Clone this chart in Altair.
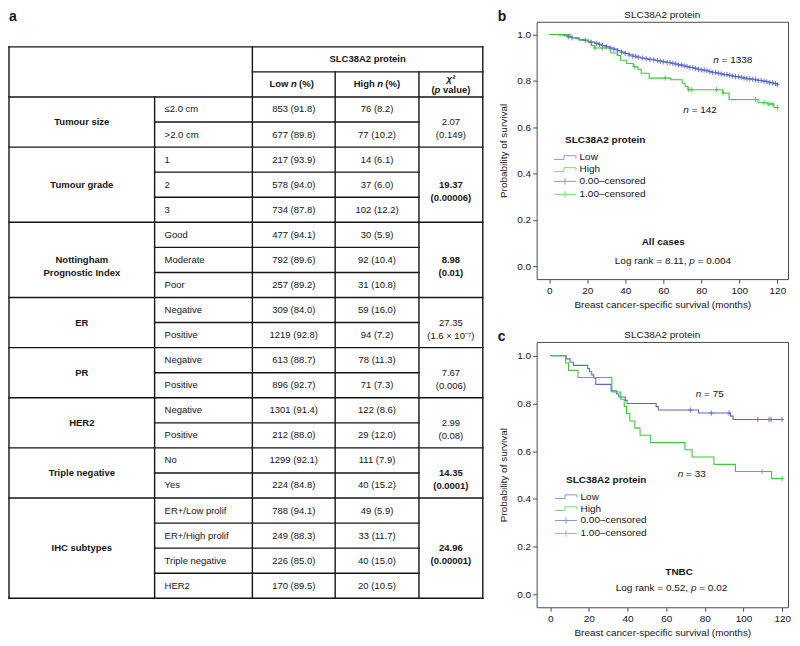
import altair as alt
import pandas as pd

FONT = "Liberation Sans"
INK = "#151515"
FRAME = "#4a4a4a"
BLUE = "#5a6bc6"
GREEN = "#43c443"

# ---------------- data: table (panel a) ----------------
groups = ["Tumour size", "Tumour grade", "Nottingham\nPrognostic Index", "ER", "PR",
          "HER2", "Triple negative", "IHC subtypes"]
subcats = [["≤2.0 cm", ">2.0 cm"], ["1", "2", "3"], ["Good", "Moderate", "Poor"],
           ["Negative", "Positive"], ["Negative", "Positive"], ["Negative", "Positive"],
           ["No", "Yes"], ["ER+/Low prolif", "ER+/High prolif", "Triple negative", "HER2"]]
low_n = [853, 677, 217, 578, 734, 477, 792, 257, 309, 1219, 613, 896, 1301, 212,
         1299, 224, 788, 249, 226, 170]
low_pct = [91.8, 89.8, 93.9, 94.0, 87.8, 94.1, 89.6, 89.2, 84.0, 92.8, 88.7, 92.7,
           91.4, 88.0, 92.1, 84.8, 94.1, 88.3, 85.0, 89.5]
high_n = [76, 77, 14, 37, 102, 30, 92, 31, 59, 94, 78, 71, 122, 29, 111, 40, 49, 33, 40, 20]
high_pct = [8.2, 10.2, 6.1, 6.0, 12.2, 5.9, 10.4, 10.8, 16.0, 7.2, 11.3, 7.3, 8.6, 12.0,
            7.9, 15.2, 5.9, 11.7, 15.0, 10.5]
chi2 = ["2.07", "19.37", "8.98", "27.35", "7.67", "2.99", "14.35", "24.96"]
pvals = ["0.149", "0.00006", "0.01", "1.6 × 10⁻⁷", "0.006", "0.08", "0.0001", "0.00001"]
significant = [False, True, True, False, False, False, True, True]

# ---------------- data: Kaplan-Meier curves ----------------
# panel b, all cases
b_low_t = [0, 5, 8, 10, 12, 14, 16, 18, 20, 22, 24, 26, 28, 30, 32, 34, 36, 38, 40, 42, 44,
           46, 48, 50, 52, 54, 56, 58, 60, 62, 64, 66, 68, 70, 72, 74, 76, 78, 80, 82, 84,
           86, 88, 90, 92, 94, 96, 98, 100, 102, 104, 106, 108, 110, 112, 114, 116, 118, 120]
b_low_s = [1.0, 0.998, 0.995, 0.99, 0.986, 0.982, 0.978, 0.975, 0.971, 0.967, 0.962, 0.957,
           0.952, 0.947, 0.942, 0.937, 0.930, 0.924, 0.918, 0.912, 0.906, 0.902, 0.899,
           0.896, 0.893, 0.891, 0.888, 0.885, 0.882, 0.879, 0.876, 0.873, 0.869, 0.865,
           0.862, 0.858, 0.854, 0.850, 0.847, 0.844, 0.840, 0.836, 0.833, 0.830, 0.827,
           0.824, 0.821, 0.818, 0.815, 0.812, 0.809, 0.807, 0.805, 0.802, 0.799, 0.796,
           0.792, 0.788, 0.783]
b_high_t = [0, 11, 15.6, 20.7, 22.3, 24, 32.4, 35.8, 37.5, 40.8, 44.2, 46.7, 48.4, 52.6,
            64, 70, 71.5, 73, 91.3, 94.6, 109.8, 114.8, 118.2, 120]
b_high_s = [1.0, 0.987, 0.976, 0.966, 0.952, 0.942, 0.92, 0.91, 0.889, 0.875, 0.861, 0.85,
            0.833, 0.812, 0.805, 0.790, 0.776, 0.762, 0.748, 0.720, 0.706, 0.700, 0.685, 0.685]
b_low_cens = [10, 12, 19, 22, 25, 26.5, 28, 30, 32, 34, 36, 38, 40, 42, 44, 45.5, 47, 49, 51,
              53, 55, 57, 58.5, 60, 62, 63.5, 65, 66.5, 68, 69.5, 71, 72.5, 74, 75.5, 77,
              78.5, 80, 81.5, 83, 84.5, 86, 87.5, 89, 90.5, 92, 93.5, 95, 96.5, 98, 99.5,
              101, 102.5, 104, 105.5, 107, 108.5, 110, 111.5, 113, 114.5, 116, 117.5, 119, 120]
b_high_cens = [24, 28, 45, 61, 73.5, 75, 88, 91.5, 108.5, 113, 115.6, 117.3, 120]

# panel c, TNBC
c_low_t = [0, 8.3, 10.3, 12, 19.4, 20.3, 21.5, 22.5, 23.6, 31.5, 34.4, 35.5, 38.8, 39.8,
           54.8, 55.9, 76.7, 93.3, 94.6, 120]
c_low_s = [1.0, 0.987, 0.973, 0.960, 0.947, 0.933, 0.920, 0.907, 0.880, 0.853, 0.840,
           0.827, 0.813, 0.800, 0.787, 0.773, 0.760, 0.747, 0.733, 0.733]
c_high_t = [0, 8, 9.5, 14.4, 31.9, 36.5, 38.3, 39.5, 41.2, 43.8, 46.5, 51.8, 69.7, 73.4,
            84.7, 95.8, 114.5, 120]
c_high_s = [1.0, 0.970, 0.939, 0.909, 0.848, 0.818, 0.788, 0.758, 0.727, 0.697, 0.667,
            0.636, 0.606, 0.576, 0.545, 0.515, 0.485, 0.485]
c_low_cens = [72.5, 83.3, 92.5, 107.4, 113.2, 114.3, 119.9]
c_high_cens = [109.6, 120]

legend_keys = ["Low", "High", "0.00–censored", "1.00–censored"]

# ---------------- table chart ----------------
col_w = [146, 98, 83, 84, 64]          # relative column widths (layout)
E = [0]
for w in col_w:
    E.append(E[-1] + w)
n_rows = 2 + sum(len(s) for s in subcats)

rules = []


def hline(y, x1, x2):
    rules.append(dict(x=x1, x2=x2, y=y, y2=y))


def vline(x, y1, y2):
    rules.append(dict(x=x, x2=x, y=y1, y2=y2))


hline(0, 0, E[5]); hline(n_rows, 0, E[5]); vline(0, 0, n_rows); vline(E[5], 0, n_rows)
vline(E[2], 0, n_rows); hline(1, E[2], E[5]); vline(E[3], 1, n_rows); vline(E[4], 1, n_rows)
vline(E[1], 2, n_rows); hline(2, 0, E[5])

sub_cells, val_cells, grp_cells, chi_norm, chi_bold = [], [], [], [], []
r = 2
idx = 0
for gi, (g, subs) in enumerate(zip(groups, subcats)):
    start = r
    for k, s in enumerate(subs):
        if k > 0:
            hline(r, E[1], E[4])
        sub_cells.append(dict(x=E[1], y=r + 0.5, text=s))
        val_cells.append(dict(x=(E[2] + E[3]) / 2, y=r + 0.5,
                              text=f"{low_n[idx]} ({low_pct[idx]:.1f})"))
        val_cells.append(dict(x=(E[3] + E[4]) / 2, y=r + 0.5,
                              text=f"{high_n[idx]} ({high_pct[idx]:.1f})"))
        idx += 1
        r += 1
    if r < n_rows:
        hline(r, 0, E[5])
    grp_cells.append(dict(x=E[1] / 2, y=(start + r) / 2, text=g))
    (chi_bold if significant[gi] else chi_norm).append(
        dict(x=(E[4] + E[5]) / 2, y=(start + r) / 2, text=f"{chi2[gi]}\n({pvals[gi]})"))

xs = alt.Scale(domain=[0, E[-1]], nice=False, zero=False)
ys = alt.Scale(domain=[-1, n_rows], reverse=True, nice=False, zero=False)
TFS = 9.5


def tlayer(rows, **mk):
    base = dict(font=FONT, color=INK, fontSize=TFS, baseline="middle")
    base.update(mk)
    return alt.Chart(pd.DataFrame(rows)).mark_text(**base).encode(
        x=alt.X("x:Q", scale=xs, axis=None),
        y=alt.Y("y:Q", scale=ys, axis=None),
        text="text:N")


rule_layer = alt.Chart(pd.DataFrame(rules)).mark_rule(
    color=INK, strokeWidth=1.4, strokeCap="square").encode(
    x=alt.X("x:Q", scale=xs, axis=None), x2="x2:Q",
    y=alt.Y("y:Q", scale=ys, axis=None), y2="y2:Q")

la = (E[2] + E[3]) / 2
ha = (E[3] + E[4]) / 2 + 3
ca = (E[4] + E[5]) / 2
hdr = [
    tlayer([dict(x=(E[2] + E[5]) / 2, y=0.5, text="SLC38A2 protein")], fontWeight="bold"),
    tlayer([dict(x=la, y=1.5, text="Low"), dict(x=ha, y=1.5, text="High")],
           fontWeight="bold", align="right", dx=-5.3),
    tlayer([dict(x=la, y=1.5, text="n"), dict(x=ha, y=1.5, text="n")],
           fontWeight="bold", fontStyle="italic"),
    tlayer([dict(x=la, y=1.5, text="(%)"), dict(x=ha, y=1.5, text="(%)")],
           fontWeight="bold", align="left", dx=5.3),
    tlayer([dict(x=ca, y=1.5, text="χ²")], fontWeight="bold", fontStyle="italic", dy=-5.5),
    tlayer([dict(x=ca, y=1.5, text="(")], fontWeight="bold", align="right", dx=-16.3, dy=5.5),
    tlayer([dict(x=ca, y=1.5, text="p")], fontWeight="bold", fontStyle="italic", dx=-13.4, dy=5.5),
    tlayer([dict(x=ca, y=1.5, text="value)")], fontWeight="bold", align="left", dx=-7.9, dy=5.5),
]

letter_a = alt.Chart(pd.DataFrame({"text": ["a"]})).mark_text(
    align="left", baseline="alphabetic", fontSize=14, fontWeight="bold", font=FONT,
    color=INK).encode(x=alt.value(0), y=alt.value(-1), text="text:N")

table = alt.layer(
    rule_layer,
    *hdr,
    tlayer(sub_cells, align="left", dx=10),
    tlayer(val_cells),
    tlayer(grp_cells, fontWeight="bold", lineBreak="\n", lineHeight=13),
    tlayer(chi_norm, lineBreak="\n", lineHeight=13),
    tlayer(chi_bold, fontWeight="bold", lineBreak="\n", lineHeight=13),
    letter_a,
).properties(width=E[-1], height=578, view=alt.ViewBackground(strokeOpacity=0))

# ---------------- KM panels ----------------
STEP_PATH = "M-3.2,0.36H-1.38V-0.31H0.8V0.18"
CROSS_PATH = "M-3.2,0H0.8M-1.2,-0.6V0.6"
PLUS_PATH = "M-0.8,0H0.8M0,-1V1"


def step_value(ts, ss, t):
    v = ss[0]
    for ti, si in zip(ts, ss):
        if ti <= t:
            v = si
    return v


def km_panel(low_t, low_s, high_t, high_s, low_c, high_c, n_low, n_high,
             n_low_at, n_high_at, subset, subset_at, lr_left, lr_right, lr_at,
             letter, width, height, xdom, ydom, leg_x, leg_y):
    cscale = alt.Scale(domain=legend_keys, range=[BLUE, GREEN, BLUE, GREEN])
    sscale = alt.Scale(domain=legend_keys, range=[STEP_PATH, STEP_PATH, CROSS_PATH, CROSS_PATH])
    xsc = alt.Scale(domain=xdom, nice=False, zero=False)
    ysc = alt.Scale(domain=ydom, nice=False, zero=False)
    xax = alt.Axis(values=[0, 20, 40, 60, 80, 100, 120], title="Breast cancer-specific survival (months)",
                   grid=False, domain=False, tickSize=4, tickColor=FRAME, labelFontSize=10,
                   labelPadding=2, titleFontSize=10, titleFontWeight="normal", titlePadding=4,
                   labelColor=INK, titleColor=INK, labelFont=FONT, titleFont=FONT)
    yax = alt.Axis(values=[0, 0.2, 0.4, 0.6, 0.8, 1.0], format=".1f", title="Probability of survival",
                   grid=False, domain=False, tickSize=4, tickColor=FRAME, labelFontSize=10,
                   labelPadding=2, titleFontSize=10, titleFontWeight="normal", titlePadding=8,
                   labelColor=INK, titleColor=INK, labelFont=FONT, titleFont=FONT)
    X = alt.X("t:Q", scale=xsc, axis=xax)
    Y = alt.Y("s:Q", scale=ysc, axis=yax)

    lines = pd.DataFrame(
        [dict(t=t, s=s, key="Low") for t, s in zip(low_t, low_s)] +
        [dict(t=t, s=s, key="High") for t, s in zip(high_t, high_s)])
    cens = pd.DataFrame(
        [dict(t=t, s=step_value(low_t, low_s, t), key="0.00–censored") for t in low_c] +
        [dict(t=t, s=step_value(high_t, high_s, t), key="1.00–censored") for t in high_c])

    line_layer = alt.Chart(lines).mark_line(interpolate="step-after", strokeWidth=1.1).encode(
        x=X, y=Y, color=alt.Color("key:N", scale=cscale, legend=None))
    cens_layer = alt.Chart(cens).mark_point(shape=PLUS_PATH, size=28, filled=False,
                                            strokeWidth=1, opacity=0.9).encode(
        x=X, y=Y, color=alt.Color("key:N", scale=cscale, legend=None))
    leg = alt.Legend(title="SLC38A2 protein", orient="none", legendX=leg_x, legendY=leg_y,
                     titleFontSize=10, titleFontWeight="bold", titleAnchor="end", titlePadding=6,
                     labelFontSize=10, labelOffset=2, symbolSize=121, symbolStrokeWidth=1,
                     rowPadding=1, labelColor=INK, titleColor=INK, labelFont=FONT, titleFont=FONT)
    leg_layer = alt.Chart(pd.DataFrame({"key": legend_keys})).mark_point(
        filled=False, clip=True, size=121, strokeWidth=1).encode(
        x=alt.value(-300), y=alt.value(-300),
        color=alt.Color("key:N", scale=cscale, legend=leg),
        shape=alt.Shape("key:N", scale=sscale, legend=leg))

    def ann(rows, **mk):
        base = dict(font=FONT, color=INK, fontSize=10, baseline="middle")
        base.update(mk)
        return alt.Chart(pd.DataFrame(rows)).mark_text(**base).encode(x=X, y=Y, text="text:N")

    n_it = ann([dict(t=n_low_at[0], s=n_low_at[1], text="n"),
                dict(t=n_high_at[0], s=n_high_at[1], text="n"),
                dict(t=lr_at[0], s=lr_at[1], text="p")], fontStyle="italic")
    n_val = ann([dict(t=n_low_at[0], s=n_low_at[1], text=f"= {n_low}"),
                 dict(t=n_high_at[0], s=n_high_at[1], text=f"= {n_high}"),
                 dict(t=lr_at[0], s=lr_at[1], text=lr_right)], align="left", dx=5.6)
    lr_l = ann([dict(t=lr_at[0], s=lr_at[1], text=lr_left)], align="right", dx=-5.6)
    sub = ann([dict(t=subset_at[0], s=subset_at[1], text=subset)], fontWeight="bold")
    let = alt.Chart(pd.DataFrame({"text": [letter]})).mark_text(
        align="left", baseline="alphabetic", fontSize=14, fontWeight="bold", font=FONT,
        color=INK).encode(x=alt.value(-39), y=alt.value(-1), text="text:N")
    ttl = alt.Chart(pd.DataFrame({"text": ["SLC38A2 protein"]})).mark_text(
        align="center", baseline="middle", fontSize=10, font=FONT, color=INK).encode(
        x=alt.value(width / 2), y=alt.value(-7), text="text:N")

    return alt.layer(line_layer, cens_layer, leg_layer, n_it, n_val, lr_l, sub, let, ttl
                     ).resolve_scale(color="independent", shape="independent").properties(
        width=width, height=height)


panel_b = km_panel(b_low_t, b_low_s, b_high_t, b_high_s, b_low_cens, b_high_cens,
                   1338, 142, (87.7, 0.890), (72.0, 0.675), "All cases", (60.0, 0.105),
                   "Log rank = 8.11,", "= 0.004", (75.1, 0.025), "b",
                   252, 258, [-6.6, 125.6], [-0.055, 1.055], 28, 114)
panel_c = km_panel(c_low_t, c_low_s, c_high_t, c_high_s, c_low_cens, c_high_cens,
                   75, 33, (76.7, 0.838), (67.4, 0.506), "TNBC", (66.7, 0.095),
                   "Log rank = 0.52,", "= 0.02", (74.2, 0.026), "c",
                   252, 266, [-7.0, 123.0], [-0.054, 1.058], 29, 133)

right = alt.vconcat(panel_b, panel_c, spacing=63, bounds="flush").resolve_scale(
    color="independent", shape="independent")

chart = alt.hconcat(table, right, spacing=54, bounds="flush").properties(
    padding=0
).configure(font=FONT).configure_view(stroke=FRAME, strokeWidth=1)

chart.save("out.html", embed_options={"renderer": "svg", "actions": False})
